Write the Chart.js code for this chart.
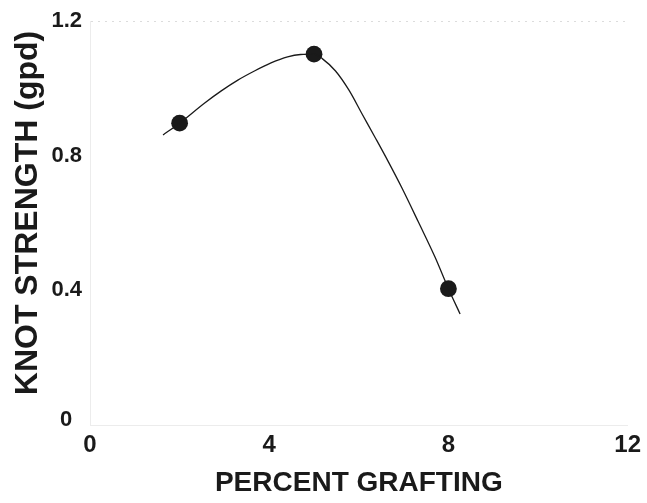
<!DOCTYPE html>
<html>
<head>
<meta charset="utf-8">
<script src="https://cdn.jsdelivr.net/npm/chart.js@4/dist/chart.umd.min.js"></script>
<style>
  html, body { margin: 0; padding: 0; background: #fff; }
  #wrap { width: 647px; height: 503px; }
</style>
</head>
<body>
<div id="wrap"><canvas id="c" width="647" height="503"></canvas></div>
<script>
// Measured points
const grafting = [2, 5, 8];
const knotStrength = [0.897, 1.102, 0.405];
// Fitted curve
const curveX = [1.63, 2.00, 2.56, 2.93, 3.30, 3.67, 4.04, 4.41, 4.70, 5.00, 5.19, 5.48, 5.78, 6.07, 6.37, 6.66, 6.96, 7.33, 7.70, 8.00, 8.26];
const curveY = [0.862, 0.897, 0.957, 0.993, 1.025, 1.052, 1.076, 1.094, 1.101, 1.102, 1.088, 1.052, 0.995, 0.925, 0.853, 0.782, 0.705, 0.603, 0.499, 0.405, 0.330];
// Axis ticks
const xTicks = [0, 4, 8, 12];
const yTicks = [0, 0.4, 0.8, 1.2];
const xTitle = 'PERCENT GRAFTING';
const yTitle = 'KNOT STRENGTH (gpd)';

const ink = '#1a1a1a';
const fam = '"Liberation Sans", Arial, Helvetica, sans-serif';

const extraText = {
  id: 'extraText',
  afterDraw(chart) {
    const ctx = chart.ctx;
    const ys = chart.scales.y;
    ctx.save();
    ctx.fillStyle = ink;
    // y-axis origin label, set off to the left and up as in the original
    ctx.font = 'bold 22px ' + fam;
    ctx.textAlign = 'center';
    ctx.textBaseline = 'middle';
    ctx.fillText(String(yTicks[0]), 66, ys.getPixelForValue(yTicks[0]) - 5);
    // y-axis title
    ctx.translate(28, 213);
    ctx.rotate(-Math.PI / 2);
    ctx.font = 'bold 32px ' + fam;
    ctx.fillText(yTitle, 0, 0);
    ctx.restore();
  }
};

new Chart(document.getElementById('c'), {
  type: 'scatter',
  data: {
    datasets: [
      {
        label: 'fit',
        data: curveX.map((x, i) => ({x, y: curveY[i]})),
        showLine: true,
        borderColor: ink,
        borderWidth: 1.3,
        pointRadius: 0,
        cubicInterpolationMode: 'monotone',
        fill: false
      },
      {
        label: 'data',
        data: grafting.map((x, i) => ({x, y: knotStrength[i]})),
        showLine: false,
        pointRadius: 8.4,
        pointBackgroundColor: ink,
        pointBorderColor: ink,
        pointBorderWidth: 0
      }
    ]
  },
  plugins: [extraText],
  options: {
    responsive: false,
    animation: false,
    devicePixelRatio: 1,
    layout: { padding: { top: 20, right: 17, bottom: 0, left: 0 } },
    plugins: { legend: { display: false }, tooltip: { enabled: false } },
    scales: {
      x: {
        type: 'linear',
        min: 0, max: 12,
        afterBuildTicks: s => { s.ticks = xTicks.map(v => ({value: v})); },
        afterFit: s => { s.height = 78; },
        border: { display: true, color: '#ececec', dash: [2, 5], width: 1 },
        grid: { display: false, drawTicks: false },
        ticks: { color: ink, padding: 6, font: { family: fam, size: 24, weight: 'bold' }, maxRotation: 0 },
        title: {
          display: true, text: xTitle, color: ink,
          font: { family: fam, size: 28, weight: 'bold', lineHeight: 1 },
          padding: { top: 0, bottom: 6 }
        }
      },
      y: {
        type: 'linear',
        min: 0, max: 1.2,
        afterBuildTicks: s => { s.ticks = yTicks.map(v => ({value: v})); },
        afterFit: s => { s.width = 90; },
        border: { display: true, color: '#ececec', dash: [2, 5], width: 1 },
        grid: {
          display: true, drawTicks: false,
          color: c => (c.tick && Math.abs(c.tick.value - 1.2) < 1e-6) ? '#dcdcdc' : 'rgba(0,0,0,0)'
        },
        ticks: { color: ink, padding: 8, font: { family: fam, size: 22, weight: 'bold' },
                 callback: v => (v === 0 ? '' : String(v)) },
        title: { display: false }
      }
    }
  }
});
</script>
</body>
</html>
